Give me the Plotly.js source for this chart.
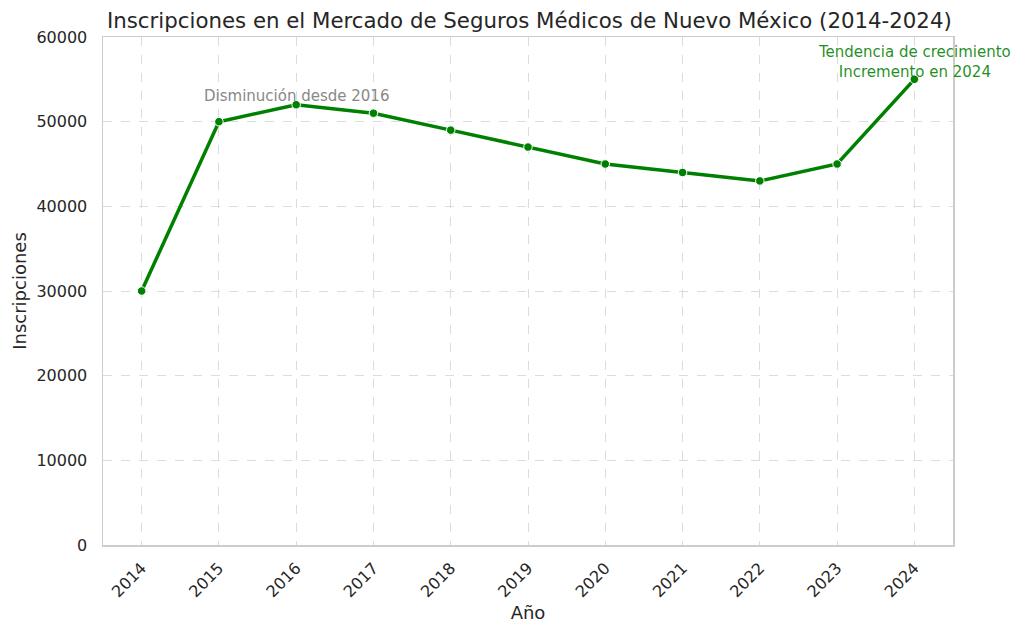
<!DOCTYPE html>
<html><head><meta charset="utf-8">
<script src="https://cdn.plot.ly/plotly-3.0.1.min.js"></script>
<style>html,body{margin:0;padding:0;background:#fff;}#chart{width:1024px;height:636px;}</style>
</head><body><div id="chart"></div>
<script>
const years = ['2014','2015','2016','2017','2018','2019','2020','2021','2022','2023','2024'];
const enrollments = [30000,50000,52000,51000,49000,47000,45000,44000,43000,45000,55000];
const yTicks = [0,10000,20000,30000,40000,50000,60000];

const trace = {
  x: years, y: enrollments, type: 'scatter', mode: 'lines+markers',
  line: {color: '#008000', width: 3.5},
  marker: {color: '#008000', size: 8.5, line: {color: '#ffffff', width: 1}},
  hoverinfo: 'x+y'
};

const font = 'DejaVu Sans, sans-serif';
const i2016 = years.indexOf('2016');
const i2024 = years.indexOf('2024');
const layout = {
  width: 1024, height: 636,
  margin: {l: 103, r: 71, t: 37, b: 91},
  paper_bgcolor: '#ffffff', plot_bgcolor: '#ffffff',
  font: {family: font, color: '#262626', size: 16},
  showlegend: false,
  title: {text: 'Inscripciones en el Mercado de Seguros Médicos de Nuevo México (2014-2024)',
          font: {family: font, size: 21.3, color: '#262626'}, x: 0.517, xanchor: 'center', y: 0.968, yanchor: 'middle'},
  xaxis: {
    type: 'category', range: [-0.5, 10.5],
    title: {text: 'Año', font: {family: font, size: 18, color: '#262626'}, standoff: 6},
    tickangle: -45, tickfont: {family: font, size: 16, color: '#262626'},
    showgrid: true, gridcolor: '#dcdcdc', griddash: 'dash', gridwidth: 1,
    showline: true, linecolor: '#cccccc', linewidth: 1.5, mirror: true,
    ticks: 'outside', ticklen: 6, tickcolor: 'rgba(0,0,0,0)', zeroline: false
  },
  yaxis: {
    range: [0, 60000], tickvals: yTicks, ticktext: yTicks.map(String),
    title: {text: 'Inscripciones', font: {family: font, size: 18, color: '#262626'}, standoff: 5},
    tickfont: {family: font, size: 16, color: '#262626'},
    showgrid: true, gridcolor: '#dcdcdc', griddash: 'dash', gridwidth: 1,
    showline: true, linecolor: '#cccccc', linewidth: 1.5, mirror: true,
    ticks: 'outside', ticklen: 11, tickcolor: 'rgba(0,0,0,0)', zeroline: false
  },
  annotations: [
    {x: i2016, y: enrollments[i2016], xref: 'x', yref: 'y', text: 'Disminución desde 2016', showarrow: false, yshift: 9,
     font: {family: font, size: 15, color: '#888888'}, xanchor: 'center', yanchor: 'middle'},
    {x: i2024, y: enrollments[i2024], xref: 'x', yref: 'y', text: 'Tendencia de crecimiento<br>Incremento en 2024', showarrow: false, yshift: -4,
     font: {family: font, size: 15, color: 'rgba(0,128,0,0.88)'}, xanchor: 'center', yanchor: 'bottom'}
  ]
};
Plotly.newPlot('chart', [trace], layout, {displayModeBar: false, staticPlot: true});
</script></body></html>
